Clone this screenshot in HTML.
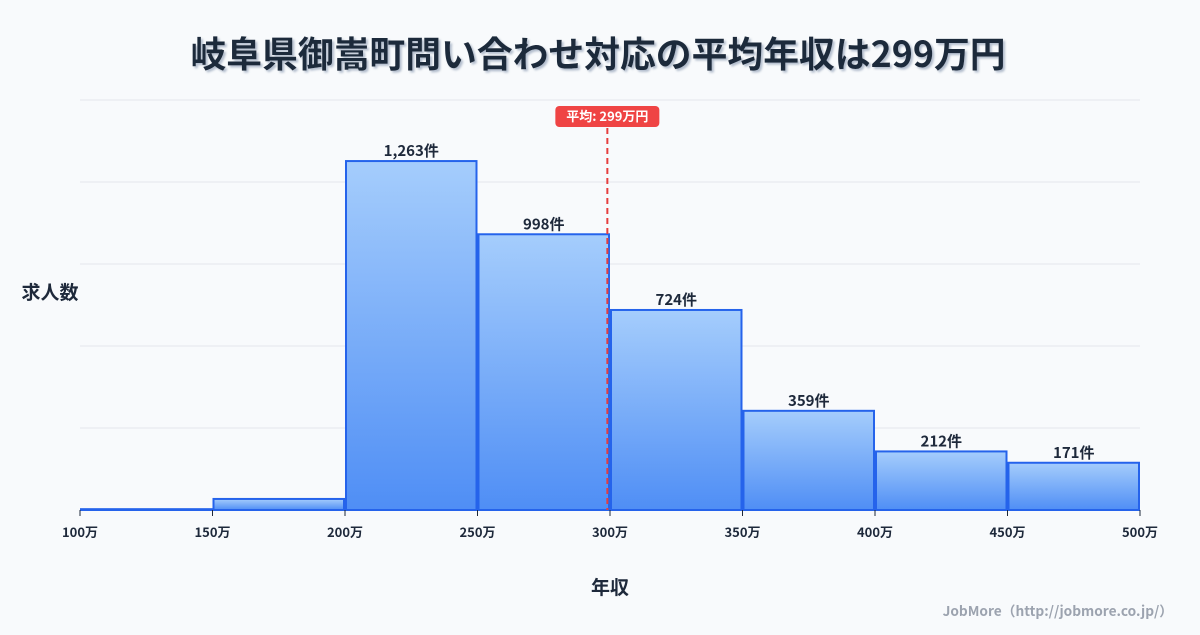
<!DOCTYPE html>
<html><head><meta charset="utf-8"><style>
body{margin:0;width:1200px;height:630px;background:#f8fafc;font-family:"Noto Sans CJK JP","Liberation Sans",sans-serif;overflow:hidden}
</style></head><body>
<svg width="1200" height="630" font-family="'Noto Sans CJK JP','Liberation Sans',sans-serif" xmlns="http://www.w3.org/2000/svg">
<defs><linearGradient id="g" x1="0" y1="0" x2="0" y2="1"><stop offset="0" stop-color="#a5cdfc"/><stop offset="1" stop-color="#4f8ef5"/></linearGradient>
<filter id="sh"><feDropShadow dx="2" dy="2" stdDeviation="1" flood-color="#94a3b8" flood-opacity="0.7"/></filter></defs>
<text x="598" y="67" text-anchor="middle" font-size="35.8" font-weight="bold" fill="#1e293b" filter="url(#sh)">岐阜県御嵩町問い合わせ対応の平均年収は299万円</text>
<g id="grid"></g><g id="bars"></g><g id="ticks"></g>
<text x="50" y="299" text-anchor="middle" font-size="19" font-weight="bold" fill="#1e293b">求人数</text>
<text x="610" y="594" text-anchor="middle" font-size="19" font-weight="bold" fill="#1e293b">年収</text>
<text x="1173" y="616" text-anchor="end" font-size="13.7" font-weight="bold" fill="#9ca3af">JobMore（http://jobmore.co.jp/）</text>
<g id="avg"></g>
</svg>
<script>
const binStarts=[100,150,200,250,300,350,400,450];
const counts=[3,40,1263,998,724,359,212,171];
const labels=["","","1,263件","998件","724件","359件","212件","171件"];
const tickLabels=["100万","150万","200万","250万","300万","350万","400万","450万","500万"];
const avgValue=299;
const avgLabel="平均: 299万円";
const NS="http://www.w3.org/2000/svg";
const x0=80,x1=1140,yB=510,yT=100,vMin=100,vMax=500,cMax=1484;
const xs=v=>x0+(v-vMin)/(vMax-vMin)*(x1-x0);
const ys=c=>yB-c/cMax*(yB-yT);
function mk(t,a,p){const e=document.createElementNS(NS,t);for(const k in a)e.setAttribute(k,a[k]);p.appendChild(e);return e;}
const G=document.getElementById('grid');
for(let i=0;i<=5;i++){const y=yT+i*(yB-yT)/5;const l=mk('line',{x1:x0,x2:x1,y1:y,y2:y,stroke:i==5?'#1e293b':'#e5e7eb','stroke-width':1},G);

}
const B=document.getElementById('bars');
binStarts.forEach((s,i)=>{const xa=xs(s)+1,xb=xs(s+50)-1,y=ys(counts[i]);
const r=mk('rect',{x:xa,y:y,width:xb-xa,height:yB-y,fill:'url(#g)',stroke:'#2563eb','stroke-width':2},B);


if(labels[i]){const t=mk('text',{x:(xa+xb)/2,y:y-5,'text-anchor':'middle','font-size':15,'font-weight':'bold',fill:'#1e293b'},B);t.textContent=labels[i];

}});
const T=document.getElementById('ticks');
tickLabels.forEach((lb,i)=>{const v=vMin+i*50,x=xs(v);mk('line',{x1:x,x2:x,y1:yB,y2:yB+6,stroke:'#1e293b'},T);
const t=mk('text',{x:x,y:537,'text-anchor':'middle','font-size':13,'font-weight':'bold',fill:'#1e293b'},T);t.textContent=lb;

});
const A=document.getElementById('avg');const ax=xs(avgValue);
const al=mk('line',{x1:ax,x2:ax,y1:128,y2:yB,stroke:'#e53e3e','stroke-width':2,'stroke-dasharray':'6,4'},A);


const ar=mk('rect',{x:ax-52,y:106,width:104,height:21,rx:4,fill:'#ef4444'},A);


const at=mk('text',{x:ax,y:121,'text-anchor':'middle','font-size':13,'font-weight':'bold',fill:'#fff'},A);at.textContent=avgLabel;


</script>
</body></html>
